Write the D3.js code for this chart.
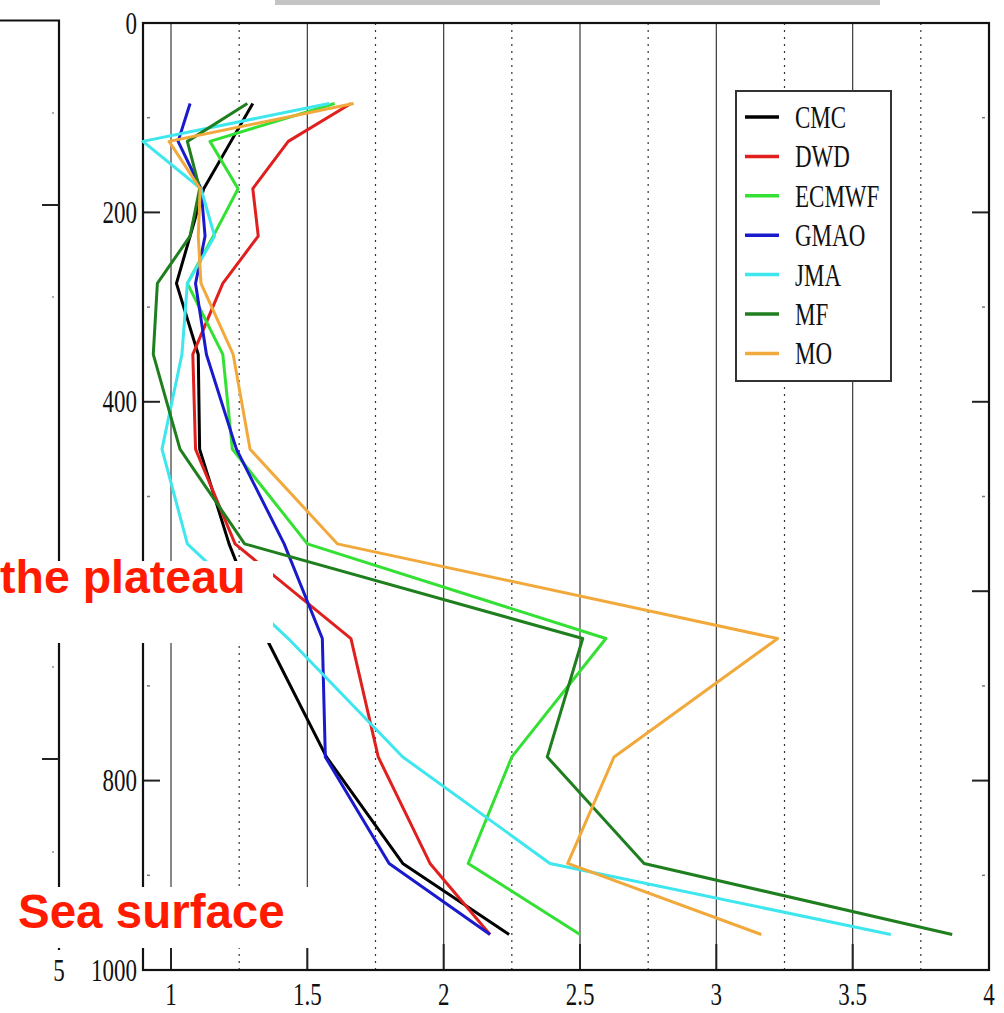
<!DOCTYPE html>
<html>
<head>
<meta charset="utf-8">
<script src="https://cdn.jsdelivr.net/npm/d3@7"></script>
<style>
  html, body { margin: 0; padding: 0; background: #fff; overflow: hidden; }
  svg { display: block; }
</style>
</head>
<body>
<svg width="1004" height="1013"></svg>
<script>
// pressure levels (hPa) where each profile has a point
const levels = [85, 125, 175, 225, 275, 350, 450, 550, 650, 775, 887.5, 962.5]

// values, one array per centre
const cmc   = [1.30, 1.22, 1.12, 1.07, 1.02, 1.10, 1.105, 1.213, 1.35, 1.57, 1.85, 2.24]
const dwd   = [1.66, 1.43, 1.30, 1.32, 1.19, 1.08, 1.09, 1.235, 1.66, 1.76, 1.95, 2.17]
const ecmwf = [1.60, 1.143, 1.246, 1.155, 1.06, 1.19, 1.225, 1.50, 2.595, 2.25, 2.09, 2.50]
const gmao  = [1.07, 1.026, 1.11, 1.125, 1.09, 1.13, 1.24, 1.415, 1.555, 1.566, 1.80, 2.17]
const jma   = [1.58, 0.897, 1.11, 1.16, 1.06, 1.04, 0.967, 1.06, 1.43, 1.85, 2.39, 3.64]
const mf    = [1.28, 1.06, 1.105, 1.07, 0.95, 0.935, 1.033, 1.27, 2.51, 2.38, 2.735, 3.865]
const mo    = [1.67, 0.993, 1.107, 1.10, 1.11, 1.228, 1.29, 1.61, 3.225, 2.625, 2.455, 3.165]

const models = ['CMC', 'DWD', 'ECMWF', 'GMAO', 'JMA', 'MF', 'MO']
const colors = ['#000000', '#e0201e', '#33e033', '#1a1acd', '#3ee6ee', '#1f7f1f', '#f2a93b']
const values = [cmc, dwd, ecmwf, gmao, jma, mf, mo]

const xTicks = [1, 1.5, 2, 2.5, 3, 3.5, 4]
const xMinor = [1.25, 1.75, 2.25, 2.75, 3.25, 3.75]
const yTicks = [0, 200, 400, 600, 800, 1000]
const yLabels = ['0', '200', '400', '', '800', '1000']
const yMinor = [100, 300, 500, 700, 900]

const svg = d3.select('svg')

// frame of the plot
const pLeft = 143, pRight = 989, pTop = 23, pBottom = 970

const x = d3.scaleLinear().domain([1, 4]).range([171, 989])
const y = d3.scaleLinear().domain([0, 1000]).range([pTop, pBottom])

const serif = '"Liberation Serif", "Times New Roman", serif'
const stretch = 1.38 // the picture is stretched vertically

// grey bar at the very top
svg.append('rect').attr('x', 275).attr('y', 0).attr('width', 605).attr('height', 5).attr('fill', '#c4c4c4')

// vertical grid: solid at the half units, dotted between
svg.append('g')
  .selectAll('line')
  .data(xTicks.filter((d) => d < 4))
  .join('line')
  .attr('x1', (d) => x(d)).attr('x2', (d) => x(d))
  .attr('y1', pTop).attr('y2', pBottom)
  .attr('stroke', '#3a3a3a').attr('stroke-width', 1.2)

svg.append('g')
  .selectAll('line')
  .data(xMinor)
  .join('line')
  .attr('x1', (d) => x(d)).attr('x2', (d) => x(d))
  .attr('y1', pTop).attr('y2', pBottom)
  .attr('stroke', '#333').attr('stroke-width', 1.2)
  .attr('stroke-dasharray', '2,5')

// inward ticks on the bottom axis
svg.append('g')
  .selectAll('line')
  .data(xTicks.filter((d) => d < 4))
  .join('line')
  .attr('x1', (d) => x(d)).attr('x2', (d) => x(d))
  .attr('y1', pBottom - 26).attr('y2', pBottom)
  .attr('stroke', '#222').attr('stroke-width', 2)

// y ticks, left and right, inward
const yt = svg.append('g')
yt.selectAll('line.l')
  .data(yTicks)
  .join('line')
  .attr('class', 'l')
  .attr('x1', pLeft).attr('x2', pLeft + 17)
  .attr('y1', (d) => y(d)).attr('y2', (d) => y(d))
  .attr('stroke', '#222').attr('stroke-width', 2)
yt.selectAll('line.r')
  .data(yTicks.slice(1, -1))
  .join('line')
  .attr('class', 'r')
  .attr('x1', pRight - 17).attr('x2', pRight)
  .attr('y1', (d) => y(d)).attr('y2', (d) => y(d))
  .attr('stroke', '#222').attr('stroke-width', 2)
yt.selectAll('line.ml')
  .data(yMinor)
  .join('line')
  .attr('class', 'ml')
  .attr('x1', pLeft + 4).attr('x2', pLeft + 7)
  .attr('y1', (d) => y(d)).attr('y2', (d) => y(d))
  .attr('stroke', '#777').attr('stroke-width', 1.5)
yt.selectAll('line.mr')
  .data(yMinor)
  .join('line')
  .attr('class', 'mr')
  .attr('x1', pRight - 7).attr('x2', pRight - 4)
  .attr('y1', (d) => y(d)).attr('y2', (d) => y(d))
  .attr('stroke', '#777').attr('stroke-width', 1.5)

// frame
svg.append('rect')
  .attr('x', pLeft).attr('y', pTop)
  .attr('width', pRight - pLeft).attr('height', pBottom - pTop)
  .attr('fill', 'none').attr('stroke', '#111').attr('stroke-width', 2.2)

// tick labels
svg.append('g')
  .selectAll('text')
  .data(xTicks)
  .join('text')
  .attr('transform', (d) => `translate(${x(d)},1005) scale(1,${stretch})`)
  .attr('text-anchor', 'middle')
  .attr('font-family', serif).attr('font-size', 23).attr('fill', '#111')
  .text((d) => d)

svg.append('g')
  .selectAll('text')
  .data(yTicks)
  .join('text')
  .attr('transform', (d) => `translate(137,${y(d) + 10.5}) scale(1,${stretch})`)
  .attr('text-anchor', 'end')
  .attr('font-family', serif).attr('font-size', 23).attr('fill', '#111')
  .text((d, i) => yLabels[i])

// piece of the neighbouring panel on the left
const lp = svg.append('g')
lp.append('path').attr('d', 'M0,20.5H59V950').attr('fill', 'none').attr('stroke', '#111').attr('stroke-width', 2.2)
lp.selectAll('line')
  .data([205, 759])
  .join('line')
  .attr('x1', 42).attr('x2', 59)
  .attr('y1', (d) => d).attr('y2', (d) => d)
  .attr('stroke', '#222').attr('stroke-width', 2)
lp.selectAll('circle')
  .data([113, 297, 667, 852])
  .join('circle')
  .attr('cx', 53).attr('cy', (d) => d).attr('r', 0.9).attr('fill', '#888')
lp.append('text')
  .attr('transform', `translate(59,981) scale(1,${stretch})`)
  .attr('text-anchor', 'middle')
  .attr('font-family', serif).attr('font-size', 23).attr('fill', '#111')
  .text('5')

// profiles
const line = d3.line()
  .x((d) => x(d[0]))
  .y((d) => y(d[1]))

svg.append('g')
  .selectAll('path')
  .data(models.map((m, i) => ({ name: m, color: colors[i], pts: values[i].map((v, j) => [v, levels[j]]) })))
  .join('path')
  .attr('d', (d) => line(d.pts))
  .attr('fill', 'none')
  .attr('stroke', (d) => d.color)
  .attr('stroke-width', 3)
  .attr('stroke-linejoin', 'round')

// legend
const lg = svg.append('g')
lg.append('rect')
  .attr('x', 736).attr('y', 91).attr('width', 155).attr('height', 290)
  .attr('fill', '#fff').attr('stroke', '#333').attr('stroke-width', 2)
const rows = lg.selectAll('g')
  .data(models)
  .join('g')
  .attr('transform', (d, i) => `translate(0,${117 + i * 39.4})`)
rows.append('line')
  .attr('x1', 745).attr('x2', 779)
  .attr('stroke', (d, i) => colors[i]).attr('stroke-width', 3.5)
rows.append('text')
  .attr('transform', `translate(795,11) scale(1,${stretch})`)
  .attr('font-family', serif).attr('font-size', 23).attr('fill', '#111')
  .text((d) => d)

// annotations pasted over the chart
const note = svg.append('g')
note.append('rect').attr('x', 0).attr('y', 561).attr('width', 273).attr('height', 82).attr('fill', '#fff')
note.append('rect').attr('x', 0).attr('y', 887).attr('width', 320).attr('height', 61).attr('fill', '#fff')
note.append('text')
  .attr('x', 0).attr('y', 593)
  .attr('font-family', '"Liberation Sans", Arial, sans-serif').attr('font-weight', 'bold')
  .attr('font-size', 46.5).attr('fill', '#ff1a00')
  .text('the plateau')
note.append('text')
  .attr('x', 18).attr('y', 928)
  .attr('font-family', '"Liberation Sans", Arial, sans-serif').attr('font-weight', 'bold')
  .attr('font-size', 47.5).attr('fill', '#ff1a00')
  .text('Sea surface')
</script>
</body>
</html>
